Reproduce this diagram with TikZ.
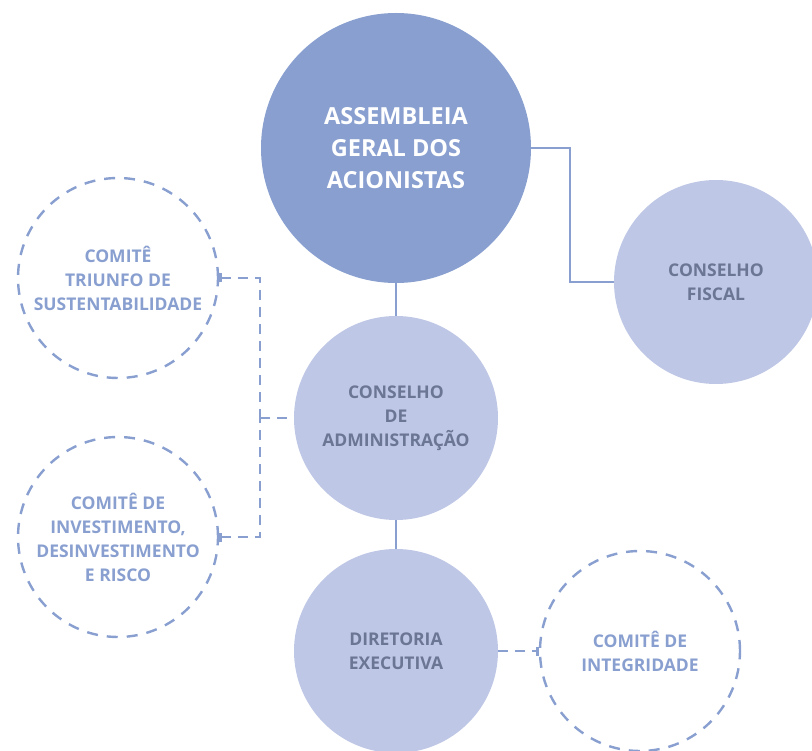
\documentclass[tikz,border=0pt]{standalone}
\usepackage{fontspec}
\setmainfont{Open Sans}
\usetikzlibrary{arrows.meta}
\definecolor{strongblue}{HTML}{889FD0}
\definecolor{paleblue}{HTML}{BEC7E5}
\definecolor{slatetext}{HTML}{6B7594}

\begin{document}
\begin{tikzpicture}[x=1pt,y=-1pt,
  bigorgan/.style={circle,fill=strongblue,minimum size=270pt,inner sep=0pt,align=center,
    text=white,font=\fontsize{23.5}{32}\selectfont\bfseries},
  organ/.style={circle,fill=paleblue,minimum size=204pt,inner sep=0pt,align=center,
    text=slatetext,font=\fontsize{17.5}{24}\selectfont\bfseries},
  committee/.style={circle,draw=strongblue,line width=2.4pt,dash pattern=on 11pt off 9pt,
    minimum size=200pt,inner sep=0pt,align=center,
    text=strongblue,font=\fontsize{17.5}{24}\selectfont\bfseries},
  link/.style={draw=strongblue,line width=2.4pt},
  dashlink/.style={draw=strongblue,line width=2.4pt,dash pattern=on 10pt off 7pt}]

\useasboundingbox (0,0) rectangle (812,751) ;
\clip (0,0) rectangle (812,751) ;

%organs
\node [bigorgan] (assembleia) at (396,148) {ASSEMBLEIA\\GERAL DOS\\ACIONISTAS} ;
\node [organ] (fiscal) at (716,282) {CONSELHO\\FISCAL} ;
\node [organ] (admin) at (396,418) {CONSELHO\\DE\\ADMINISTRAÇÃO} ;
\node [organ] (diretoria) at (396,651) {DIRETORIA\\EXECUTIVA} ;

%committees
\node [committee] (triunfo) at (118,278) {COMITÊ\\TRIUNFO DE\\SUSTENTABILIDADE} ;
\node [committee] (investimento) at (118,537) {COMITÊ DE\\INVESTIMENTO,\\DESINVESTIMENTO\\E RISCO} ;
\node [committee] (integridade) at (640,651) {COMITÊ DE\\INTEGRIDADE} ;

%solid links
\draw [link] (assembleia.east) -- ++(39,0) |- (fiscal.west) ;
\draw [link] (assembleia.south) -- (admin.north) ;
\draw [link] (admin.south) -- (diretoria.north) ;

%dashed links
\coordinate (junction) at (260,418) ;
\draw [dashlink,{Bar[width=9pt]}-] (triunfo.east) -| (junction) ;
\draw [dashlink,{Bar[width=9pt]}-] (investimento.east) -| (junction) ;
\draw [dashlink] (junction) -- (admin.west) ;
\draw [dashlink,-{Bar[width=9pt]}] (diretoria.east) -- (integridade.west) ;

\end{tikzpicture}
\end{document}
